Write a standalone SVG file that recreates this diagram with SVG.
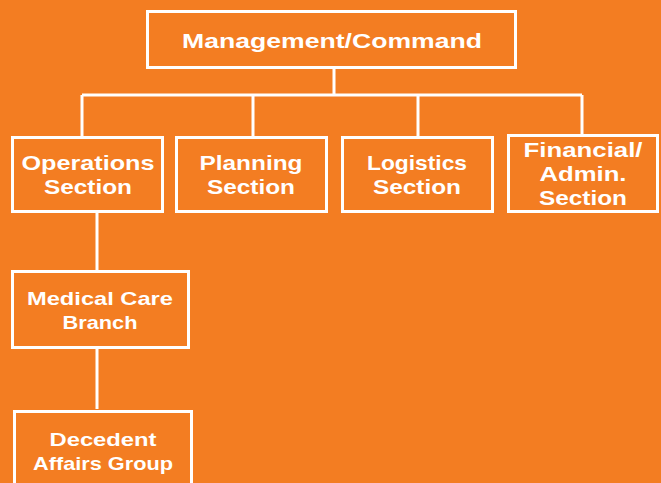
<svg xmlns="http://www.w3.org/2000/svg" width="661" height="483" viewBox="0 0 661 483">
<style>
.box{fill:none;stroke:#fff;stroke-width:3}
.ln{fill:none;stroke:#fff;stroke-width:3}
text{font-family:"Liberation Sans",Arial,sans-serif;font-weight:bold;fill:#fff;text-anchor:middle}
.t1{font-size:21px}
.t2{font-size:21px}
.t3{font-size:19px}
</style>
<rect width="661" height="483" fill="#F37D22"/>
<g id="connectors">
<path class="ln" d="M334 67V95M82 95H582M82 95V137M253 95V137M418 95V137M582 95V135M97 212V271M97 348V409"/>
</g>
<g id="mgmt"><rect class="box" x="147.5" y="11.5" width="368" height="56"/><text class="t1" x="332" y="48" textLength="300" lengthAdjust="spacingAndGlyphs">Management/Command</text></g>
<g id="ops"><rect class="box" x="12.5" y="137.5" width="150" height="74"/><text class="t2" x="88" y="170" textLength="133" lengthAdjust="spacingAndGlyphs">Operations</text><text class="t2" x="88" y="194" textLength="88" lengthAdjust="spacingAndGlyphs">Section</text></g>
<g id="plan"><rect class="box" x="176.5" y="137.5" width="150" height="74"/><text class="t2" x="251" y="170" textLength="103" lengthAdjust="spacingAndGlyphs">Planning</text><text class="t2" x="251" y="194" textLength="88" lengthAdjust="spacingAndGlyphs">Section</text></g>
<g id="log"><rect class="box" x="342.5" y="137.5" width="150" height="74"/><text class="t2" x="417" y="170" textLength="100" lengthAdjust="spacingAndGlyphs">Logistics</text><text class="t2" x="417" y="194" textLength="88" lengthAdjust="spacingAndGlyphs">Section</text></g>
<g id="fin"><rect class="box" x="508.5" y="135.5" width="149" height="76"/><text class="t2" x="583" y="157" textLength="119" lengthAdjust="spacingAndGlyphs">Financial/</text><text class="t2" x="583" y="181" textLength="87" lengthAdjust="spacingAndGlyphs">Admin.</text><text class="t2" x="583" y="205" textLength="88" lengthAdjust="spacingAndGlyphs">Section</text></g>
<g id="med"><rect class="box" x="12.5" y="271.5" width="176" height="76"/><text class="t3" x="100" y="305" textLength="146" lengthAdjust="spacingAndGlyphs">Medical Care</text><text class="t3" x="100" y="329" textLength="75" lengthAdjust="spacingAndGlyphs">Branch</text></g>
<g id="dec"><rect class="box" x="14.5" y="411.5" width="177" height="80"/><text class="t3" x="103" y="446" textLength="107" lengthAdjust="spacingAndGlyphs">Decedent</text><text class="t3" x="103" y="470" textLength="140" lengthAdjust="spacingAndGlyphs">Affairs Group</text></g>
</svg>
